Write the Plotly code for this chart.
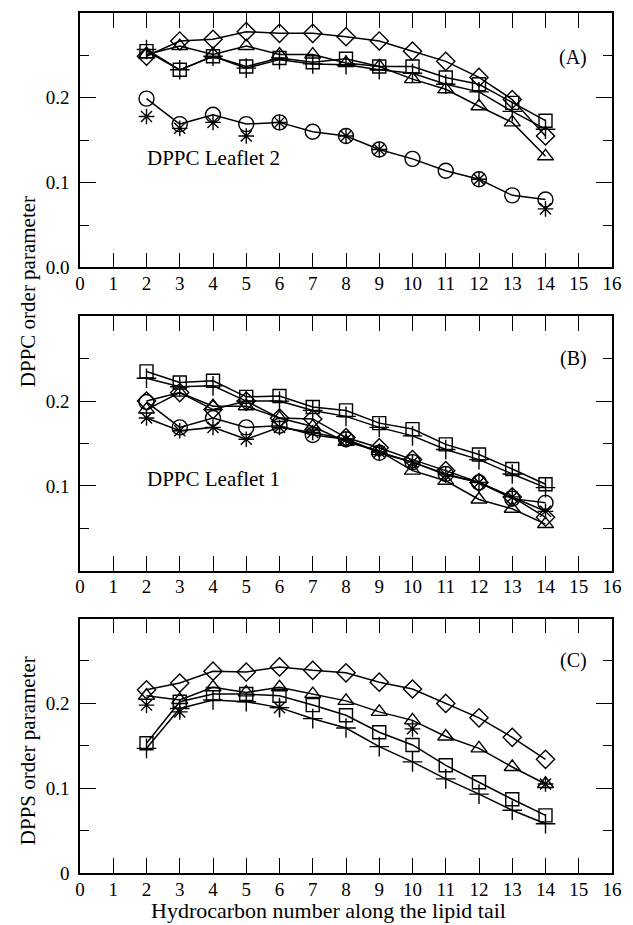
import plotly.graph_objects as go

x_carbon = [2, 3, 4, 5, 6, 7, 8, 9, 10, 11, 12, 13, 14]
x_ticks = list(range(0, 17))

# Panel A: DPPC leaflet 2
A_diamond = [0.249, 0.267, 0.269, 0.278, 0.276, 0.276, 0.272, 0.267, 0.255, 0.243, 0.224, 0.198, 0.155]
A_square = [0.255, 0.233, 0.249, 0.237, 0.247, 0.242, 0.246, 0.237, 0.237, 0.224, 0.216, 0.194, 0.173]
A_triangle = [0.251, 0.261, 0.251, 0.261, 0.251, 0.251, 0.241, 0.237, 0.222, 0.210, 0.190, 0.171, 0.131]
A_plus = [0.257, 0.233, 0.249, 0.235, 0.245, 0.240, 0.239, 0.233, 0.229, 0.216, 0.207, 0.184, 0.163]
A_circle = [0.199, 0.169, 0.180, 0.169, 0.171, 0.160, 0.155, 0.139, 0.128, 0.114, 0.104, 0.085, 0.080]
A_star = [0.178, 0.164, 0.171, 0.155, 0.171, None, 0.155, 0.139, None, None, 0.104, None, 0.069]

# Panel B: DPPC leaflet 1
B_square = [0.235, 0.222, 0.224, 0.205, 0.206, 0.193, 0.189, 0.174, 0.167, 0.149, 0.137, 0.120, 0.102]
B_plus = [0.227, 0.217, 0.218, 0.200, 0.200, 0.189, 0.182, 0.169, 0.159, 0.143, 0.131, 0.114, 0.098]
B_circle = [0.199, 0.169, 0.180, 0.169, 0.171, 0.160, 0.155, 0.139, 0.128, 0.114, 0.104, 0.085, 0.080]
B_triangle = [0.190, 0.210, 0.194, 0.194, 0.180, 0.170, 0.152, 0.141, 0.118, 0.106, 0.084, 0.073, 0.055]
B_diamond = [0.200, 0.210, 0.190, 0.200, 0.180, 0.179, 0.157, 0.145, 0.131, 0.118, 0.104, 0.087, 0.063]
B_star = [0.180, 0.165, 0.169, 0.155, 0.169, 0.163, 0.155, 0.140, 0.128, 0.113, 0.104, 0.087, 0.070]

# Panel C: DPPS
C_diamond = [0.216, 0.224, 0.238, 0.237, 0.243, 0.239, 0.236, 0.225, 0.217, 0.200, 0.183, 0.160, 0.134]
C_triangle = [0.209, 0.204, 0.219, 0.213, 0.219, 0.211, 0.203, 0.190, 0.180, 0.161, 0.147, 0.125, 0.105]
C_square = [0.153, 0.202, 0.211, 0.211, 0.209, 0.198, 0.186, 0.166, 0.151, 0.127, 0.107, 0.087, 0.068]
C_plus = [0.147, 0.194, 0.204, 0.202, 0.195, 0.182, 0.171, 0.149, 0.131, 0.111, 0.093, 0.074, 0.058]
C_star = [0.198, 0.190, None, None, 0.195, None, None, None, 0.170, None, None, None, 0.105]

FONT = "Liberation Serif"
BLACK = "black"

fig = go.Figure()


def add(y, symbol, xa, ya, lines=True, size=14):
    fig.add_trace(go.Scatter(
        x=x_carbon, y=y, xaxis=xa, yaxis=ya,
        mode="lines+markers" if lines else "markers",
        line=dict(color=BLACK, width=1.5),
        marker=dict(symbol=symbol, size=size, color=BLACK,
                    line=dict(color=BLACK, width=1.4)),
        showlegend=False, cliponaxis=False, connectgaps=False,
    ))


# Panel A
add(A_diamond, "diamond-open", "x", "y")
add(A_square, "square-open", "x", "y", size=13)
add(A_triangle, "triangle-up-open", "x", "y")
add(A_plus, "cross-thin-open", "x", "y")
add(A_circle, "circle-open", "x", "y", size=15)
add(A_star, "asterisk-open", "x", "y", lines=False, size=13)

# Panel B
add(B_square, "square-open", "x2", "y2", size=13)
add(B_plus, "cross-thin-open", "x2", "y2")
add(B_circle, "circle-open", "x2", "y2", size=15)
add(B_triangle, "triangle-up-open", "x2", "y2")
add(B_diamond, "diamond-open", "x2", "y2")
add(B_star, "asterisk-open", "x2", "y2", size=13)

# Panel C
add(C_diamond, "diamond-open", "x3", "y3")
add(C_triangle, "triangle-up-open", "x3", "y3")
add(C_square, "square-open", "x3", "y3", size=13)
add(C_plus, "cross-thin-open", "x3", "y3")
add(C_star, "asterisk-open", "x3", "y3", lines=False, size=13)

xcommon = dict(range=[0, 16], tickvals=x_ticks, ticks="inside", ticklen=15,
               tickwidth=1.4, tickcolor=BLACK, showline=True, linecolor=BLACK,
               linewidth=1.5, mirror="ticks", showgrid=False, zeroline=False,
               ticklabelstandoff=-2, ticklabeloverflow="allow",
               tickfont=dict(family=FONT, size=19, color=BLACK))
ycommon = dict(range=[0, 0.3], ticks="inside", ticklen=16, tickwidth=1.4,
               tickcolor=BLACK, showline=True, linecolor=BLACK, linewidth=1.5,
               mirror="ticks", showgrid=False, zeroline=False,
               ticklabelstandoff=5,
               tickfont=dict(family=FONT, size=19, color=BLACK),
               minor=dict(tickvals=[0.05, 0.15, 0.25], ticks="inside", ticklen=9,
                          tickwidth=1.4, tickcolor=BLACK, showgrid=False))

H = 862.0
dA = [1 - 255 / H, 1]
dB = [1 - 559 / H, 1 - 304 / H]
dC = [0, 255 / H]

fig.update_layout(
    width=633, height=925,
    margin=dict(l=80, r=11, t=11, b=52),
    paper_bgcolor="white", plot_bgcolor="white",
    font=dict(family=FONT, color=BLACK),
    xaxis=dict(xcommon, anchor="y"),
    yaxis=dict(ycommon, domain=dA, anchor="x", tickvals=[0, 0.1, 0.2],
               ticktext=["0.0", "0.1", "0.2"]),
    xaxis2=dict(xcommon, anchor="y2"),
    yaxis2=dict(ycommon, domain=dB, anchor="x2", tickvals=[0.1, 0.2],
                ticktext=["0.1", "0.2"]),
    xaxis3=dict(xcommon, anchor="y3"),
    yaxis3=dict(ycommon, domain=dC, anchor="x3", tickvals=[0, 0.1, 0.2],
                ticktext=["0", "0.1", "0.2"]),
)

ann = [
    dict(text="(A)", x=15.3, y=0.248, xref="x", yref="y", xanchor="right", size=20),
    dict(text="(B)", x=15.3, y=0.25, xref="x2", yref="y2", xanchor="right", size=20),
    dict(text="(C)", x=15.3, y=0.25, xref="x3", yref="y3", xanchor="right", size=20),
    dict(text="DPPC Leaflet 2", x=1.95, y=0.129, xref="x", yref="y", xanchor="left", size=21),
    dict(text="DPPC Leaflet 1", x=1.95, y=0.108, xref="x2", yref="y2", xanchor="left", size=21),
]
for a in ann:
    fig.add_annotation(text=a["text"], x=a["x"], y=a["y"], xref=a["xref"], yref=a["yref"],
                       xanchor=a["xanchor"], yanchor="middle", showarrow=False,
                       font=dict(family=FONT, size=a["size"], color=BLACK))

fig.add_annotation(text="DPPC order parameter", x=-0.098, y=1 - 279 / H, xref="paper",
                   yref="paper", textangle=-90, showarrow=False, xanchor="center",
                   yanchor="middle", font=dict(family=FONT, size=21, color=BLACK))
fig.add_annotation(text="DPPS order parameter", x=-0.098, y=1 - 739 / H, xref="paper",
                   yref="paper", textangle=-90, showarrow=False, xanchor="center",
                   yanchor="middle", font=dict(family=FONT, size=21, color=BLACK))
fig.add_annotation(text="Hydrocarbon number along the lipid tail", x=(333 - 80) / 542,
                   y=-38 / H, xref="paper", yref="paper", showarrow=False,
                   xanchor="center", yanchor="middle",
                   font=dict(family=FONT, size=22, color=BLACK))

fig.write_html(
    "out.html",
    config={"displayModeBar": False},
    post_script="document.documentElement.style.margin='0';"
                "document.body.style.margin='0';"
                "document.body.style.overflow='hidden';",
)
